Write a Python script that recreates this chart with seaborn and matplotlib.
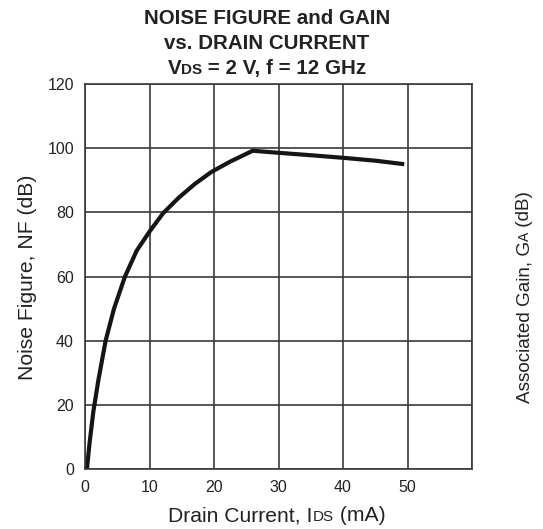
import matplotlib
matplotlib.use("Agg")
import matplotlib.pyplot as plt
import seaborn as sns
import pandas as pd

# values
drain_current = [0.3, 0.7, 1.3, 2.1, 3.2, 4.5, 6.2, 8.0, 10.0, 12.1, 14.5, 17.0, 19.6, 22.5, 26.0, 29.7, 35.0, 40.0, 45.0, 49.5]
noise_figure = [0, 8, 18, 28, 40, 50, 60, 68, 74, 79.7, 84.5, 88.8, 92.6, 95.8, 99.2, 98.6, 97.8, 97.0, 96.1, 95.0]

x_ticks = [0, 10, 20, 30, 40, 50, 60]
x_tick_labels = ["0", "10", "20", "30", "40", "50", ""]
y_ticks = [0, 20, 40, 60, 80, 100, 120]

W, H = 543, 529
FONT = "Liberation Sans"
GRID = "#3a3a3a"

sns.set_theme(style="white")
plt.rcParams["font.family"] = [FONT, "DejaVu Sans"]

fig = plt.figure(figsize=(W / 100, H / 100), dpi=100)
ax = fig.add_axes([85 / W, 1 - 469 / H, (472 - 85) / W, (469 - 84) / H])

df = pd.DataFrame({"ids": drain_current, "nf": noise_figure})
sns.lineplot(data=df, x="ids", y="nf", ax=ax, color="#151515", linewidth=3.0,
             estimator=None, sort=False, solid_capstyle="butt", solid_joinstyle="round")

ax.set_xlim(0, 60)
ax.set_ylim(0, 120)
ax.set_xticks(x_ticks)
ax.set_xticklabels(x_tick_labels)
ax.set_yticks(y_ticks)
ax.set_xlabel("")
ax.set_ylabel("")
ax.tick_params(length=0, labelsize=11.5, colors="#222222", pad=8)
ax.grid(True, color=GRID, linewidth=1.2)
for s in ax.spines.values():
    s.set_color(GRID)
    s.set_linewidth(1.2)


def rich_text(cx, cy, pieces, rotation=0):
    # pieces: (text, size, weight); cx/cy in pixels from top-left, centred along the text
    r = fig.canvas.get_renderer()
    arts = []
    for txt, size, weight in pieces:
        t = fig.text(0, 0, txt, fontsize=size, fontweight=weight, color="#222222",
                     ha="left", va="baseline", rotation=rotation, rotation_mode="anchor")
        bb = t.get_window_extent(r)
        arts.append((t, bb.height if rotation else bb.width))
    total = sum(w for _, w in arts)
    pos = -total / 2
    for t, w in arts:
        if rotation:
            t.set_position((cx / W, 1 - (cy - pos) / H))
        else:
            t.set_position(((cx + pos) / W, 1 - cy / H))
        pos += w


rich_text(267, 24, [("NOISE FIGURE and GAIN", 14.8, "bold")])
rich_text(267, 49, [("vs. DRAIN CURRENT", 14.8, "bold")])
rich_text(267, 74, [("V", 14.8, "bold"), ("DS", 11, "bold"), (" = 2 V, f = 12 GHz", 14.8, "bold")])
rich_text(277, 521, [("Drain Current, I", 15.2, "normal"), ("DS", 11, "normal"), (" (mA)", 15.2, "normal")])
rich_text(33, 277, [("Noise Figure, NF (dB)", 15.2, "normal")], rotation=90)
rich_text(529, 297, [("Associated Gain, G", 13.6, "normal"), ("A", 10, "normal"), (" (dB)", 13.6, "normal")], rotation=90)

fig.savefig("out.png", dpi=100)
